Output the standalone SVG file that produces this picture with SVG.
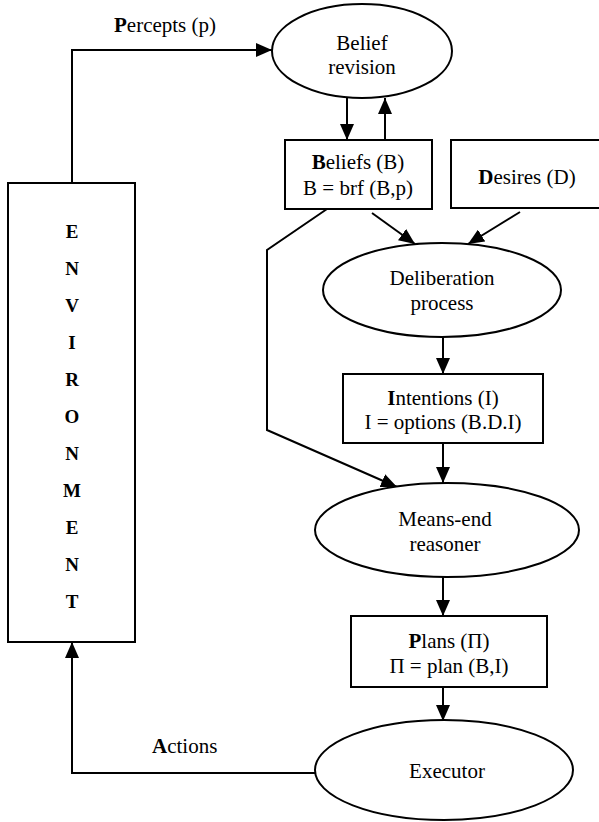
<svg xmlns="http://www.w3.org/2000/svg" width="599" height="822" viewBox="0 0 599 822">
<defs>
<marker id="ah" markerWidth="16" markerHeight="14" refX="16" refY="7" orient="auto" markerUnits="userSpaceOnUse">
<path d="M0,0 L16,7 L0,14 z" fill="#000"/>
</marker>
<style>
.sh{fill:#fff;stroke:#000;stroke-width:2}
.ln{fill:none;stroke:#000;stroke-width:2;marker-end:url(#ah)}
text{font-family:"Liberation Serif","Times New Roman",serif;font-size:21px;fill:#000}
.c{text-anchor:middle}
.b{font-weight:bold}
.env{font-weight:bold;font-size:19px;text-anchor:middle}
</style>
</defs>
<rect width="599" height="822" fill="#fff"/>
<g id="connectors">
<path class="ln" d="M72,183 L72,50 L272,50"/>
<path class="ln" d="M347,98 L347,140"/>
<path class="ln" d="M385,140 L385,98"/>
<path class="ln" d="M372,213 L415,244"/>
<path class="ln" d="M520,212 L468,244"/>
<path class="ln" d="M327,209 L267,250 L267,430 L397,487"/>
<path class="ln" d="M443,337 L443,374"/>
<path class="ln" d="M443,443 L443,483"/>
<path class="ln" d="M443,577 L443,616"/>
<path class="ln" d="M443,687 L443,721"/>
<path class="ln" d="M315,773 L72,773 L72,642"/>
<text x="114" y="32"><tspan class="b">P</tspan>ercepts (p)</text>
<text x="152" y="753"><tspan class="b">A</tspan>ctions</text>
</g>
<g id="environment">
<rect class="sh" x="8" y="183" width="127" height="459"/>
<text class="env" x="72" y="238">E</text>
<text class="env" x="72" y="275">N</text>
<text class="env" x="72" y="312">V</text>
<text class="env" x="72" y="349">I</text>
<text class="env" x="72" y="386">R</text>
<text class="env" x="72" y="423">O</text>
<text class="env" x="72" y="460">N</text>
<text class="env" x="72" y="497">M</text>
<text class="env" x="72" y="534">E</text>
<text class="env" x="72" y="571">N</text>
<text class="env" x="72" y="608">T</text>
</g>
<g id="belief-revision">
<ellipse class="sh" cx="362" cy="51" rx="90" ry="47"/>
<text class="c" x="362" y="50">Belief</text>
<text class="c" x="362" y="74">revision</text>
</g>
<g id="beliefs">
<rect class="sh" x="285" y="140" width="147" height="69"/>
<text class="c" x="358" y="169"><tspan class="b">B</tspan>eliefs (B)</text>
<text class="c" x="358" y="195">B = brf (B,p)</text>
</g>
<g id="desires">
<rect class="sh" x="451" y="140" width="160" height="68"/>
<text class="c" x="527" y="184"><tspan class="b">D</tspan>esires (D)</text>
</g>
<g id="deliberation">
<ellipse class="sh" cx="442" cy="290" rx="119" ry="47"/>
<text class="c" x="442" y="285">Deliberation</text>
<text class="c" x="442" y="310">process</text>
</g>
<g id="intentions">
<rect class="sh" x="343" y="374" width="200" height="69"/>
<text class="c" x="443" y="405"><tspan class="b">I</tspan>ntentions (I)</text>
<text class="c" x="443" y="429">I = options (B.D.I)</text>
</g>
<g id="means-end">
<ellipse class="sh" cx="447" cy="530" rx="132" ry="47"/>
<text class="c" x="445" y="526">Means-end</text>
<text class="c" x="445" y="551">reasoner</text>
</g>
<g id="plans">
<rect class="sh" x="351" y="616" width="196" height="71"/>
<text class="c" x="449" y="648"><tspan class="b">P</tspan>lans (Π)</text>
<text class="c" x="449" y="673">Π = plan (B,I)</text>
</g>
<g id="executor">
<ellipse class="sh" cx="444" cy="770" rx="129" ry="50"/>
<text class="c" x="447" y="778">Executor</text>
</g>
</svg>
